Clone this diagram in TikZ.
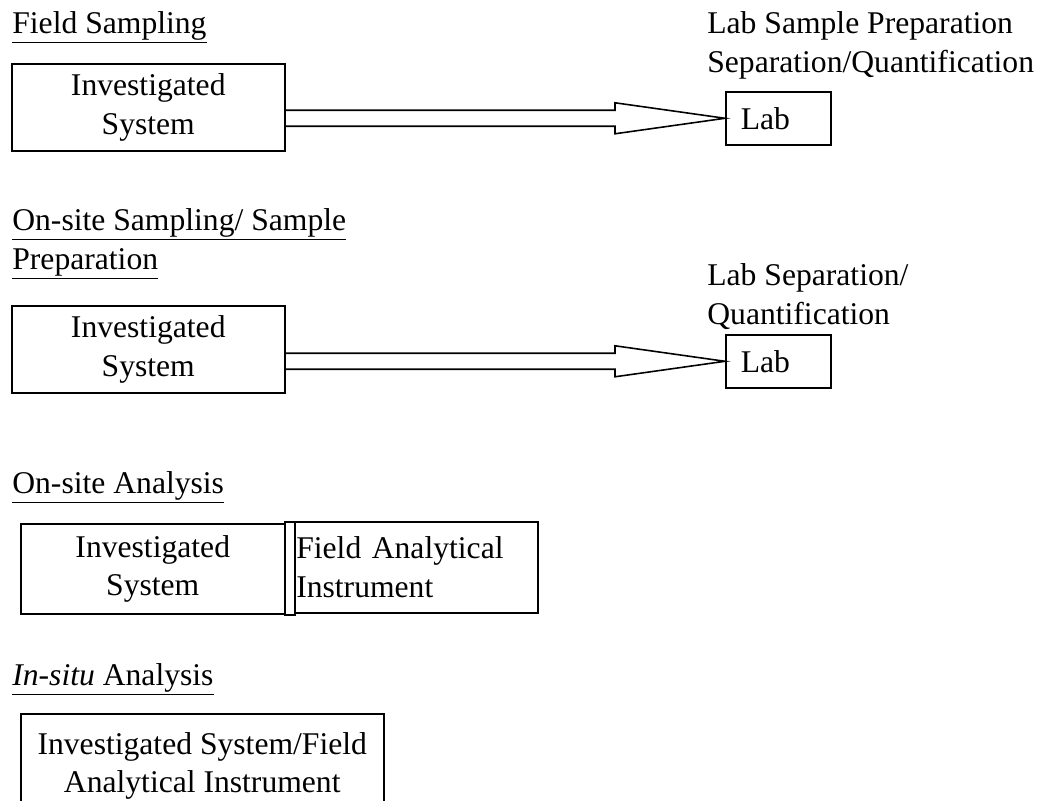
\documentclass[tikz,border=0pt]{standalone}
\usepackage{fontspec}
\setmainfont{Liberation Serif}
\usetikzlibrary{positioning,calc}

\begin{document}
\begin{tikzpicture}[x=0.02cm,y=-0.02cm,
    every node/.style={font=\fontsize{18}{22}\selectfont},
    box/.style={draw,line width=0.9pt,inner sep=0pt,anchor=north west,align=center},
    heading/.style={anchor=base west,inner sep=0pt,align=left}]
  \useasboundingbox (0,0) rectangle (1038,801);

  % field sampling
  \node[heading] (t1) at (12,33) {\underline{Field Sampling}};
  \node[box,minimum width=5.46cm,minimum height=1.74cm] (sys1) at (11,63) {Investigated\\System};
  \node[box,minimum width=2.1cm,minimum height=1.06cm,text width=1.5cm,align=left] (lab1) at (725,91) {Lab};
  \node[heading] (l1) at (707,72) {Lab Sample Preparation\\Separation/Quantification};

  % on-site sampling
  \node[heading] (t2) at (12,269) {\underline{On-site Sampling/ Sample}\\\underline{Preparation}};
  \node[box,minimum width=5.46cm,minimum height=1.74cm] (sys2) at (11,305) {Investigated\\System};
  \node[box,minimum width=2.1cm,minimum height=1.06cm,text width=1.5cm,align=left] (lab2) at (725,334) {Lab};
  \node[heading] (l2) at (707,324) {Lab Separation/\\Quantification};

  % hollow block arrows
  \foreach \s/\l in {sys1/lab1,sys2/lab2}
    \draw[line width=0.9pt] ($(\s.east |- \l.west)+(0,-8)$) -- ($(\l.west)+(-110,-8)$)
      -- ($(\l.west)+(-110,-15.5)$) -- (\l.west) -- ($(\l.west)+(-110,15.5)$)
      -- ($(\l.west)+(-110,8)$) -- ($(\s.east |- \l.west)+(0,8)$);

  % on-site analysis
  \node[heading] (t3) at (12,493) {\underline{On-site Analysis}};
  \node[box,minimum width=5.28cm,minimum height=1.8cm] (sys3) at (20,523) {Investigated\\System};
  \node[box,minimum width=0.2cm,minimum height=1.86cm] (gap) at (284,521) {};
  \node[box,minimum width=4.86cm,minimum height=1.82cm,text width=4.8cm,align=left] (fai) at (294,521) {Field Analytical\\Instrument};

  % in-situ analysis
  \node[heading] (t4) at (12,685) {\underline{\textit{In-situ} Analysis}};
  \node[box,minimum width=7.26cm,minimum height=2.08cm] (sys4) at (20,713) {Investigated System/Field\\Analytical Instrument};
\end{tikzpicture}
\end{document}
